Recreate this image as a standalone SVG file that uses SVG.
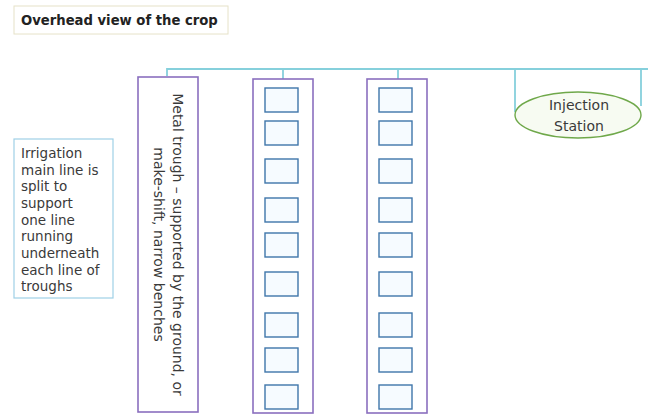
<svg xmlns="http://www.w3.org/2000/svg" width="648" height="416" viewBox="0 0 648 416">
<style>
.t{font-family:"DejaVu Sans","Liberation Sans",sans-serif;fill:#3a3a3a}
.trough{fill:#ffffff;stroke:#8a6fbf;stroke-width:1.6}
.sq{fill:#f6fbff;stroke:#3f76aa;stroke-width:1.4}
.pipe{fill:none;stroke:#86d0dc;stroke-width:1.8}
</style>
<rect width="648" height="416" fill="#ffffff"/>
<g id="title">
<rect x="14" y="6" width="214" height="28" fill="#ffffff" stroke="#e6e2c8" stroke-width="1"/>
<text class="t" x="21" y="25" font-size="13.2" font-weight="bold" style="fill:#222">Overhead view of the crop</text>
</g>
<g id="connectors">
<path class="pipe" d="M167,76 V69 H648"/>
<path class="pipe" d="M283,69 V79"/>
<path class="pipe" d="M398,69 V79"/>
<path class="pipe" d="M515,69 V112"/>
<path class="pipe" d="M641,69 V106"/>
</g>
<g id="note">
<rect x="14" y="139" width="99" height="159" fill="#ffffff" stroke="#9fd0e6" stroke-width="1.2"/>
<text class="t" font-size="13.5">
<tspan x="21" y="158">Irrigation</tspan>
<tspan x="21" y="175">main line is</tspan>
<tspan x="21" y="191">split to</tspan>
<tspan x="21" y="208">support</tspan>
<tspan x="21" y="225">one line</tspan>
<tspan x="21" y="241">running</tspan>
<tspan x="21" y="258">underneath</tspan>
<tspan x="21" y="275">each line of</tspan>
<tspan x="21" y="291">troughs</tspan>
</text>
</g>
<g id="trough1">
<rect class="trough" x="138" y="77" width="60" height="335"/>
<text class="t" font-size="14" text-anchor="middle" transform="translate(173,244.5) rotate(90)">Metal trough – supported by the ground, or</text>
<text class="t" font-size="14" text-anchor="middle" transform="translate(154,244.5) rotate(90)">make-shift, narrow benches</text>
</g>
<g id="trough2">
<rect class="trough" x="253" y="79" width="60" height="334"/>
<rect class="sq" x="265" y="88" width="33" height="24"/>
<rect class="sq" x="265" y="121" width="33" height="24"/>
<rect class="sq" x="265" y="159" width="33" height="24"/>
<rect class="sq" x="265" y="198" width="33" height="24"/>
<rect class="sq" x="265" y="233" width="33" height="24"/>
<rect class="sq" x="265" y="272" width="33" height="24"/>
<rect class="sq" x="265" y="313" width="33" height="24"/>
<rect class="sq" x="265" y="348" width="33" height="24"/>
<rect class="sq" x="265" y="385" width="33" height="24"/>
</g>
<g id="trough3">
<rect class="trough" x="367" y="79" width="60" height="334"/>
<rect class="sq" x="379" y="88" width="33" height="24"/>
<rect class="sq" x="379" y="121" width="33" height="24"/>
<rect class="sq" x="379" y="159" width="33" height="24"/>
<rect class="sq" x="379" y="198" width="33" height="24"/>
<rect class="sq" x="379" y="233" width="33" height="24"/>
<rect class="sq" x="379" y="272" width="33" height="24"/>
<rect class="sq" x="379" y="313" width="33" height="24"/>
<rect class="sq" x="379" y="348" width="33" height="24"/>
<rect class="sq" x="379" y="385" width="33" height="24"/>
</g>
<g id="injection">
<ellipse cx="578" cy="115" rx="63" ry="23" fill="#f7fbf2" stroke="#6fa84a" stroke-width="1.4"/>
<text class="t" font-size="14" text-anchor="middle" x="579" y="110">Injection</text>
<text class="t" font-size="14" text-anchor="middle" x="579" y="131">Station</text>
</g>
</svg>
